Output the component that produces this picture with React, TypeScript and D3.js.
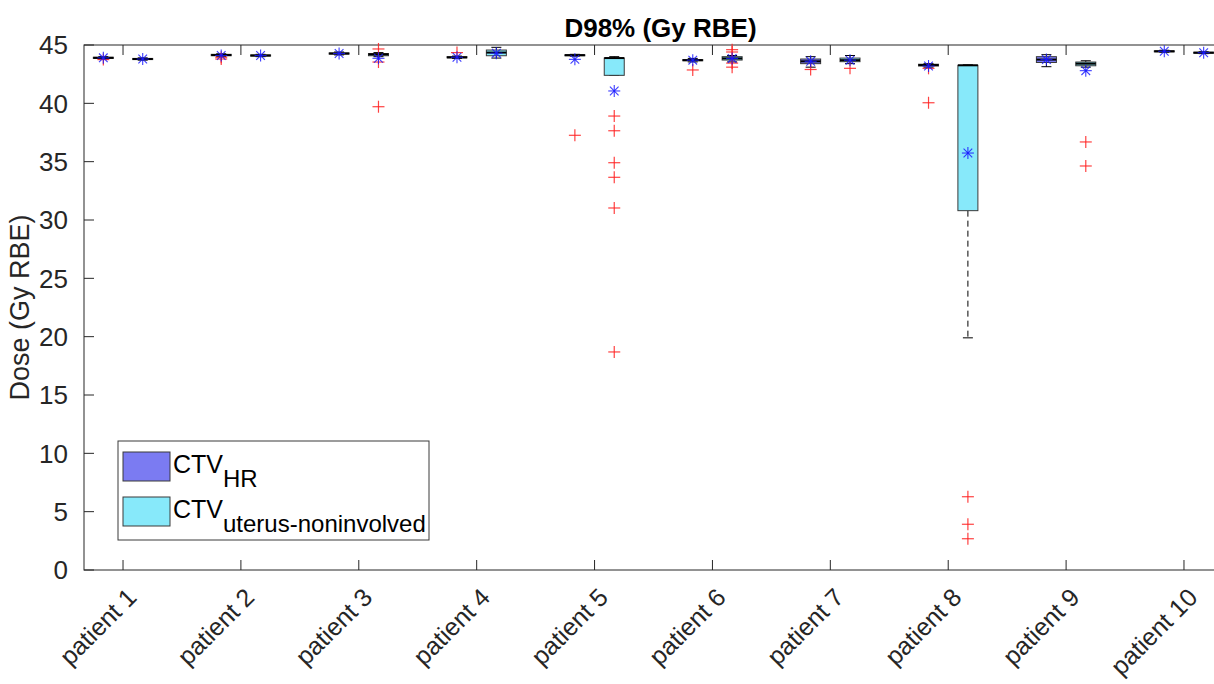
import React from 'react';
import * as d3 from 'd3';

// box statistics, one value per patient
const patients = ['patient 1', 'patient 2', 'patient 3', 'patient 4', 'patient 5',
  'patient 6', 'patient 7', 'patient 8', 'patient 9', 'patient 10'];

// CTV HR
const hrLow = [43.8, 44.0, 44.15, 43.85, 44.05, 43.55, 43.1, 43.1, 43.14, 44.38];
const hrQ1 = [43.85, 44.08, 44.22, 43.9, 44.1, 43.65, 43.4, 43.2, 43.5, 44.42];
const hrMed = [43.9, 44.14, 44.27, 43.94, 44.13, 43.7, 43.6, 43.28, 43.75, 44.46];
const hrQ3 = [43.95, 44.2, 44.32, 44.0, 44.16, 43.75, 43.8, 43.35, 44.0, 44.5];
const hrHigh = [44.0, 44.25, 44.4, 44.05, 44.2, 43.85, 44.0, 43.4, 44.17, 44.55];
const hrMean = [43.9, 44.1, 44.27, 43.95, 43.77, 43.7, 43.6, 43.2, 43.75, 44.46];
const hrOut = [[43.75], [43.95, 43.8], [], [44.35], [37.26], [42.86], [42.9], [43.0, 40.05], [], []];

// CTV uterus-noninvolved
const utLow = [43.7, 44.0, 44.0, 43.88, 42.4, 43.55, 43.4, 19.9, 43.1, 44.26];
const utQ1 = [43.75, 44.05, 44.08, 44.08, 42.4, 43.71, 43.57, 30.8, 43.22, 44.3];
const utMed = [43.8, 44.1, 44.2, 44.35, 43.88, 43.85, 43.7, 43.26, 43.4, 44.34];
const utQ3 = [43.85, 44.15, 44.27, 44.57, 43.88, 44.0, 43.88, 43.26, 43.54, 44.38];
const utHigh = [43.9, 44.2, 44.35, 44.8, 44.0, 44.1, 44.1, 43.3, 43.65, 44.42];
const utMean = [43.8, 44.1, 43.86, 44.3, 41.06, 43.85, 43.7, 35.74, 42.8, 44.34];
const utOut = [[], [], [44.66, 43.54, 39.71], [], [38.91, 37.65, 34.91, 33.66, 31.03, 18.69],
  [44.6, 44.4, 43.45, 43.1], [43.0], [6.28, 3.92, 2.68], [36.69, 34.63], []];

const yTicks = [0, 5, 10, 15, 20, 25, 30, 35, 40, 45];

const hrColor = '#7b7bf2';
const utColor = '#87e9fa';
const font = 'Liberation Sans, Arial, Helvetica, sans-serif';

const W = 1214;
const H = 684;
const left = 84, right = 1223, top = 45, bottom = 570;

const x = d3.scaleLinear().domain([-0.331, 9.331]).range([left, right]);
const y = d3.scaleLinear().domain([0, 45]).range([bottom, top]);

const offset = 0.167;
const boxW = 20;

function Plus({ cx, cy }: { cx: number; cy: number }) {
  const s = 6;
  return (
    <g stroke="#ff2020" strokeWidth={1.2} strokeOpacity={0.85}>
      <line x1={cx - s} x2={cx + s} y1={cy} y2={cy} />
      <line x1={cx} x2={cx} y1={cy - s} y2={cy + s} />
    </g>
  );
}

function Star({ cx, cy }: { cx: number; cy: number }) {
  const s = 6;
  const d = s * 0.72;
  return (
    <g stroke="#1a1aff" strokeWidth={1.1} strokeOpacity={0.85}>
      <line x1={cx - s} x2={cx + s} y1={cy} y2={cy} />
      <line x1={cx} x2={cx} y1={cy - s} y2={cy + s} />
      <line x1={cx - d} x2={cx + d} y1={cy - d} y2={cy + d} />
      <line x1={cx - d} x2={cx + d} y1={cy + d} y2={cy - d} />
    </g>
  );
}

function Box(props: {
  cx: number; lo: number; q1: number; med: number; q3: number; hi: number;
  mean: number; out: number[]; fill: string;
}) {
  const { cx, lo, q1, med, q3, hi, mean, out, fill } = props;
  const yTop = y(q3);
  const yBot = y(q1);
  const h = Math.max(1, yBot - yTop);
  return (
    <g>
      <line x1={cx} x2={cx} y1={y(hi)} y2={yTop} stroke="#000" strokeDasharray="6,4" strokeWidth={1} />
      <line x1={cx} x2={cx} y1={yBot} y2={y(lo)} stroke="#000" strokeDasharray="6,4" strokeWidth={1} />
      <line x1={cx - boxW / 4} x2={cx + boxW / 4} y1={y(hi)} y2={y(hi)} stroke="#000" strokeWidth={1} />
      <line x1={cx - boxW / 4} x2={cx + boxW / 4} y1={y(lo)} y2={y(lo)} stroke="#000" strokeWidth={1} />
      <rect x={cx - boxW / 2} y={yTop} width={boxW} height={h} fill={fill} stroke="#3a3a3a" strokeWidth={1} />
      <line x1={cx - boxW / 2} x2={cx + boxW / 2} y1={y(med)} y2={y(med)} stroke="#000" strokeWidth={2} />
      {out.map((v, i) => <Plus key={i} cx={cx} cy={y(v)} />)}
      <Star cx={cx} cy={y(mean)} />
    </g>
  );
}

export default function App() {
  return (
    <svg width={W} height={H} style={{ position: 'absolute', left: 0, top: 0, background: '#fff' }}
      fontFamily={font}>
      <rect x={0} y={0} width={W} height={H} fill="#fff" />
      {/* title */}
      <text x={(left + right) / 2 + 7} y={37} textAnchor="middle" fontSize={26} fontWeight="bold" fill="#000">
        D98% (Gy RBE)
      </text>
      {/* y label */}
      <text transform={`translate(29, ${(top + bottom) / 2}) rotate(-90)`} textAnchor="middle"
        fontSize={27} fill="#262626">
        Dose (Gy RBE)
      </text>
      {/* axes frame */}
      <rect x={left} y={top} width={right - left} height={bottom - top} fill="none" stroke="#262626" strokeWidth={1} />
      {yTicks.map((t) => (
        <g key={t}>
          <line x1={left} x2={left + 10} y1={y(t)} y2={y(t)} stroke="#262626" />
          <text x={left - 16} y={y(t)} dy="0.36em" textAnchor="end" fontSize={26} fill="#262626">{t}</text>
        </g>
      ))}
      {patients.map((p, i) => (
        <g key={p}>
          <line x1={x(i)} x2={x(i)} y1={bottom} y2={bottom - 10} stroke="#262626" />
          <line x1={x(i)} x2={x(i)} y1={top} y2={top + 10} stroke="#262626" />
          <text transform={`translate(${x(i) + 15}, 599) rotate(-45)`} textAnchor="end" fontSize={25} fill="#262626">
            {p}
          </text>
        </g>
      ))}
      {/* boxes */}
      {patients.map((p, i) => (
        <g key={'b' + p}>
          <Box cx={x(i - offset)} lo={hrLow[i]} q1={hrQ1[i]} med={hrMed[i]} q3={hrQ3[i]} hi={hrHigh[i]}
            mean={hrMean[i]} out={hrOut[i]} fill={hrColor} />
          <Box cx={x(i + offset)} lo={utLow[i]} q1={utQ1[i]} med={utMed[i]} q3={utQ3[i]} hi={utHigh[i]}
            mean={utMean[i]} out={utOut[i]} fill={utColor} />
        </g>
      ))}
      {/* legend */}
      <g>
        <rect x={118} y={441} width={311} height={99} fill="#fff" stroke="#3a3a3a" strokeWidth={1} />
        <rect x={123} y={452} width={47} height={29} fill={hrColor} stroke="#3a3a3a" />
        <rect x={123} y={497} width={47} height={29} fill={utColor} stroke="#3a3a3a" />
        <text x={173} y={473} fontSize={25} fill="#000">
          CTV<tspan dy={14} fontSize={24}>HR</tspan>
        </text>
        <text x={173} y={518} fontSize={25} fill="#000">
          CTV<tspan dy={14} fontSize={24}>uterus-noninvolved</tspan>
        </text>
      </g>
    </svg>
  );
}
